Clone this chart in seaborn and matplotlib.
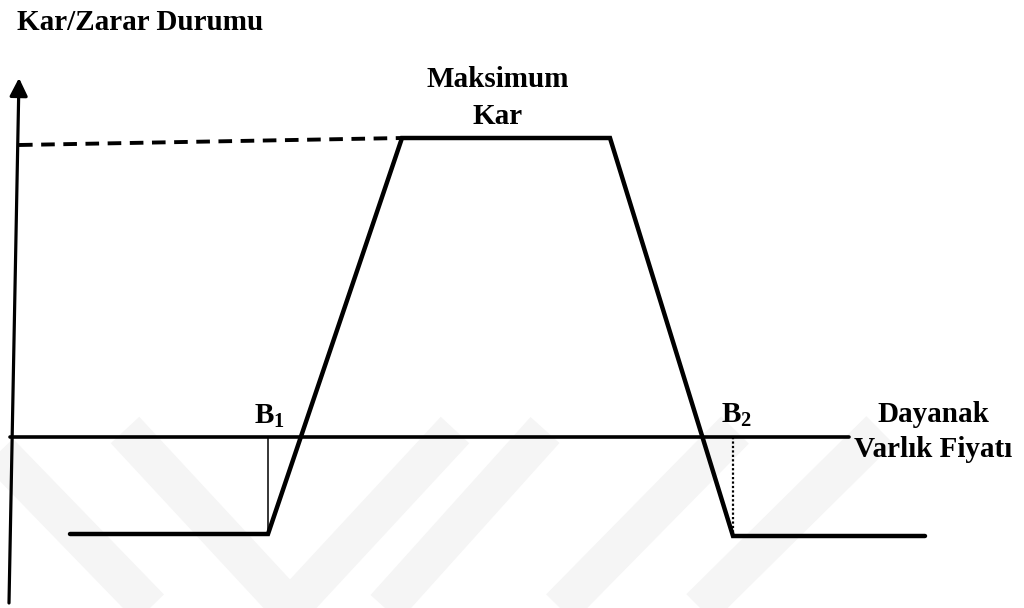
import matplotlib
matplotlib.use("Agg")
import matplotlib.pyplot as plt
import seaborn as sns
import pandas as pd

# ---- data (price on x, profit/loss on y; 0 = underlying price axis) ----
payoff_price = [70, 268, 402, 610, 733, 925]
payoff_profit = [-97, -97, 299, 299, -99, -99]
max_profit_ref_price = [19, 402]
max_profit_ref_profit = [292, 299]
breakeven_price = [268, 733]
breakeven_low = [-97, -99]
axis_price_range = [10, 849]

title_text = "Kar/Zarar Durumu"
max_label = "Maksimum\nKar"
b_labels = [r"$\mathbf{B}_{\mathbf{1}}$", r"$\mathbf{B}_{\mathbf{2}}$"]
x_label = "Dayanak\nVarlık Fiyatı"

sns.set_theme(style="white")
plt.rcParams["font.family"] = ["Liberation Serif", "DejaVu Serif"]
plt.rcParams["mathtext.fontset"] = "custom"
plt.rcParams["mathtext.bf"] = "Liberation Serif:bold"
plt.rcParams["mathtext.rm"] = "Liberation Serif"
plt.rcParams["text.color"] = "black"

fig = plt.figure(figsize=(10.24, 6.08), dpi=100)
ax = fig.add_axes([0, 0, 1, 1])
ax.set_xlim(0, 1024)
ax.set_ylim(-171, 437)
ax.axis("off")

# faint watermark chevrons
wm = "#f5f5f5"
bands = [((-40, 25), (150, -171)), ((125, 7), (290, -171)), ((290, -171), (455, 7)),
         ((385, -171), (545, 7)), ((560, -171), (735, 7)), ((700, -171), (880, 7))]
for (x0, y0), (x1, y1) in bands:
    ax.plot([x0, x1], [y0, y1], color=wm, lw=28, solid_capstyle="butt", zorder=0)

# price axis
sns.lineplot(x=axis_price_range, y=[0, 0], color="black", linewidth=2.6, ax=ax, zorder=3)

# profit axis with arrow
ax.annotate("", xy=(19, 359), xytext=(9, -166),
            arrowprops=dict(arrowstyle="-|>", lw=2.3, color="black", mutation_scale=27,
                            shrinkA=0, shrinkB=0), zorder=4)

# dashed reference to max profit
sns.lineplot(x=max_profit_ref_price, y=max_profit_ref_profit, color="black",
             linewidth=2.8, linestyle=(0, (3.5, 2.2)), ax=ax, sort=False, estimator=None, zorder=3)

# payoff
df = pd.DataFrame({"price": payoff_price, "profit": payoff_profit})
sns.lineplot(data=df, x="price", y="profit", color="black", linewidth=3.2,
             sort=False, estimator=None, ax=ax, zorder=5)
for line in ax.lines[-1:]:
    line.set_solid_joinstyle("miter")

# breakeven markers
ax.plot([breakeven_price[0]] * 2, [0, breakeven_low[0]], color="black", lw=1.1, zorder=2)
ax.plot([breakeven_price[1]] * 2, [0, breakeven_low[1]], color="black", lw=1.6,
        linestyle=(0, (1, 1)), zorder=2)

# texts
fs = 21
ax.text(17, 415, title_text, fontsize=fs, fontweight="bold", ha="left", va="center", color="black")
ax.text(498, 339, max_label, fontsize=fs, fontweight="bold", ha="center", va="center",
        linespacing=1.5, color="black")
ax.text(breakeven_price[0] + 1, 21, b_labels[0], fontsize=fs, ha="center", va="center", color="black")
ax.text(breakeven_price[1] + 4, 22, b_labels[1], fontsize=fs, ha="center", va="center", color="black")
ax.text(933, 5, x_label, fontsize=fs, fontweight="bold", ha="center", va="center",
        linespacing=1.4, color="black")

fig.savefig("out.png", dpi=100)
